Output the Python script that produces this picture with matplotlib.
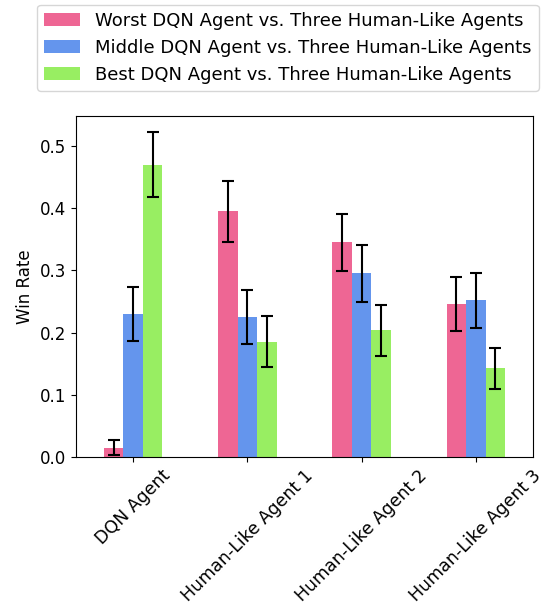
import numpy as np
import matplotlib
matplotlib.use("Agg")
import matplotlib.pyplot as plt

categories = ["DQN Agent", "Human-Like Agent 1", "Human-Like Agent 2", "Human-Like Agent 3"]
series_names = ["Worst DQN Agent vs. Three Human-Like Agents",
                "Middle DQN Agent vs. Three Human-Like Agents",
                "Best DQN Agent vs. Three Human-Like Agents"]
worst = [0.015, 0.395, 0.345, 0.246]
middle = [0.230, 0.225, 0.295, 0.252]
best = [0.470, 0.185, 0.204, 0.143]
worst_err = [0.012, 0.049, 0.046, 0.043]
middle_err = [0.043, 0.043, 0.046, 0.044]
best_err = [0.052, 0.041, 0.041, 0.033]

colors = ["#EE6694", "#6495ED", "#98EE62"]

fig = plt.figure(figsize=(5.48, 6.07), dpi=100)
ax = fig.add_axes([76/548, 1 - 457/607, (533-76)/548, (457-116)/607])

x = np.arange(len(categories))
w = 0.17
vals = [worst, middle, best]
errs = [worst_err, middle_err, best_err]
for i, (v, e, c, n) in enumerate(zip(vals, errs, colors, series_names)):
    ax.bar(x + (i - 1) * w, v, w, yerr=e, color=c, label=n, capsize=4,
           error_kw=dict(elinewidth=1.5, capthick=1.5, ecolor="black"))

ax.set_xlim(-0.5, 3.5)
ax.set_xticks(x)
ax.set_xticklabels(categories, rotation=45, fontsize=12.5)
ax.set_yticks([0.0, 0.1, 0.2, 0.3, 0.4, 0.5])
ax.tick_params(axis='y', labelsize=12)
ax.set_ylabel("Win Rate", fontsize=12)

handles, labels = ax.get_legend_handles_labels()
fig.legend(handles, labels, loc="upper left", bbox_to_anchor=(37/548, 1 - 4.5/607),
           borderaxespad=0, fontsize=13)

fig.savefig("out.png", dpi=100)
